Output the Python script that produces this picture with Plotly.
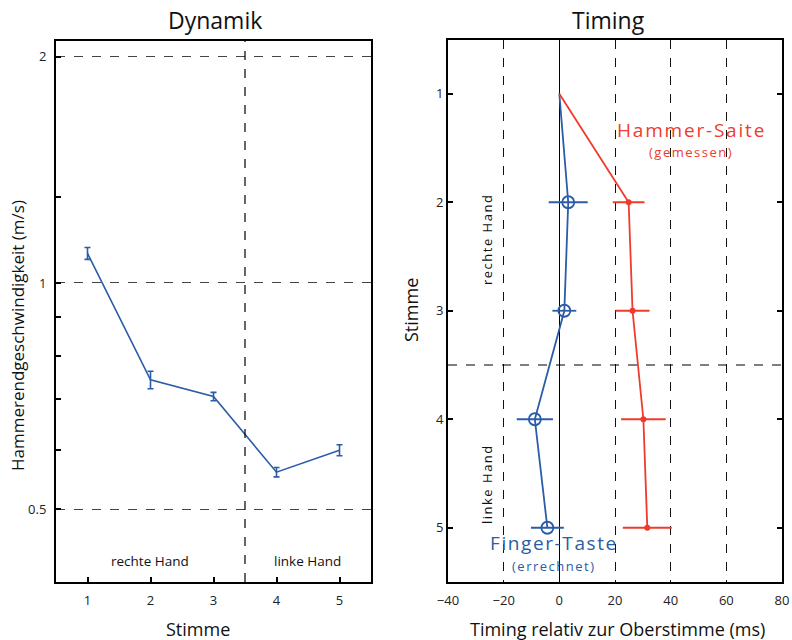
import plotly.graph_objects as go

# ---- data ----
stimme = [1, 2, 3, 4, 5]
dyn_vel = [1.095, 0.743, 0.706, 0.560, 0.599]
dyn_err = [0.020, 0.020, 0.009, 0.008, 0.010]

finger_t = [0, 3.2, 1.8, -8.8, -4.3]
finger_err = [0, 7.0, 4.3, 6.5, 5.9]
hammer_t = [0, 24.9, 26.3, 30.2, 31.6]
hammer_err = [0, 5.7, 6.1, 8.0, 8.8]

dyn_major = [0.5, 1, 2]
dyn_minor = [0.6, 0.7, 0.8, 0.9, 1.3]
timing_ticks = [-40, -20, 0, 20, 40, 60, 80]

BLUE = "#2a5ca8"
RED = "#ef3b2c"
FONT = "Open Sans"
W, H = 792, 640

def px(x):
    return x / W

def py(y):
    return 1 - y / H

fig = go.Figure()

fig.add_trace(go.Scatter(
    x=stimme, y=dyn_vel, mode="lines",
    line=dict(color=BLUE, width=1.6),
    error_y=dict(type="data", array=dyn_err, color=BLUE, thickness=1.6, width=3),
    xaxis="x", yaxis="y", showlegend=False))

fig.add_trace(go.Scatter(
    x=finger_t, y=stimme, mode="lines",
    line=dict(color=BLUE, width=1.8),
    error_x=dict(type="data", array=finger_err, color=BLUE, thickness=1.8, width=0),
    xaxis="x2", yaxis="y2", showlegend=False))
fig.add_trace(go.Scatter(
    x=finger_t[1:], y=stimme[1:], mode="markers",
    marker=dict(symbol="circle-open", size=12, color=BLUE, line=dict(width=1.8)),
    xaxis="x2", yaxis="y2", showlegend=False))

fig.add_trace(go.Scatter(
    x=hammer_t, y=stimme, mode="lines",
    line=dict(color=RED, width=1.8),
    error_x=dict(type="data", array=hammer_err, color=RED, thickness=1.8, width=0),
    xaxis="x2", yaxis="y2", showlegend=False))
fig.add_trace(go.Scatter(
    x=hammer_t[1:], y=stimme[1:], mode="markers",
    marker=dict(symbol="circle", size=6, color=RED),
    xaxis="x2", yaxis="y2", showlegend=False))

tickfont = dict(family=FONT, size=13, color="#222")

fig.update_layout(
    width=W, height=H,
    margin=dict(l=0, r=0, t=0, b=0, autoexpand=False),
    paper_bgcolor="white", plot_bgcolor="white",
    font=dict(family=FONT, color="#111"),
    xaxis=dict(domain=[px(56), px(371)], range=[0.5, 5.5], automargin=False,
               tickvals=stimme, ticks="inside", ticklen=5, tickwidth=1.5, tickcolor="black",
               ticklabelstandoff=5,
               showgrid=False, zeroline=False, showline=True, linecolor="black",
               linewidth=2, mirror=True, tickfont=tickfont),
    yaxis=dict(domain=[py(582), py(41)], type="log", automargin=False,
               range=[-0.398, 0.322],
               tickvals=dyn_major, ticktext=["0.5", "1", "2"],
               ticks="inside", ticklen=5, tickwidth=1.5, tickcolor="black",
               ticklabelstandoff=5,
               showgrid=True, gridcolor="#444", griddash="dash", gridwidth=1,
               minor=dict(tickvals=dyn_minor, ticks="inside", ticklen=5,
                          tickwidth=1.5, tickcolor="black", showgrid=False),
               zeroline=False, showline=True, linecolor="black", linewidth=2,
               mirror=True, tickfont=tickfont),
    xaxis2=dict(domain=[px(448), px(782)], range=[-40, 80], anchor="y2", automargin=False,
                tickvals=timing_ticks, ticks="", ticklabelstandoff=5,
                showgrid=True, gridcolor="#111", griddash="dash", gridwidth=1,
                zeroline=True, zerolinecolor="black", zerolinewidth=1.2,
                showline=True, linecolor="black", linewidth=2, mirror=True,
                tickfont=tickfont),
    yaxis2=dict(domain=[py(582), py(39.5)], range=[5.5, 0.5], anchor="x2", automargin=False,
                tickvals=stimme, ticks="inside", ticklen=5, tickwidth=1.5, tickcolor="black",
                showgrid=False, zeroline=False, showline=True, linecolor="black",
                linewidth=2, mirror="ticks", tickfont=tickfont),
)

fig.add_shape(type="line", xref="x", yref="y domain", x0=3.5, x1=3.5, y0=0, y1=1,
              line=dict(color="black", width=1.2, dash="dash"))
fig.add_shape(type="line", xref="x2 domain", yref="y2", x0=0, x1=1, y0=3.5, y1=3.5,
              line=dict(color="black", width=1.2, dash="dash"))

ann = []
def A(text, x, y, size, color="#111", angle=0, spacing=None):
    t = text
    if spacing:
        t = '<span style="letter-spacing:%s">%s</span>' % (spacing, text)
    ann.append(dict(text=t, x=px(x), y=py(y), xref="paper", yref="paper",
                    showarrow=False, textangle=angle,
                    font=dict(family=FONT, size=size, color=color),
                    xanchor="center", yanchor="middle"))

A("Dynamik", 215, 20, 23)
A("Timing", 608, 20, 23)
A("Stimme", 198, 629, 18)
A("Timing relativ zur Oberstimme (ms)", 617, 629, 18)
A("Hammerendgeschwindigkeit (m/s)", 17, 336, 17, angle=-90)
A("Stimme", 411, 310, 18, angle=-90)
A("rechte Hand", 150, 561, 13.5)
A("linke Hand", 307, 561, 13.5)
A("rechte Hand", 487, 240, 13, angle=-90, spacing="1.5px")
A("linke Hand", 487, 484, 13, angle=-90, spacing="1.5px")
A("Hammer-Saite", 691, 130, 19, color=RED, spacing="1.8px")
A("(gemessen)", 691, 152, 13, color=RED, spacing="1.5px")
A("Finger-Taste", 554, 543, 19, color=BLUE, spacing="1.6px")
A("(errechnet)", 554, 566, 13, color=BLUE, spacing="1.5px")
fig.update_layout(annotations=ann)

fig.write_html("out.html", config={"displayModeBar": False},
               post_script="document.body.style.margin='0';document.body.style.padding='0';")
